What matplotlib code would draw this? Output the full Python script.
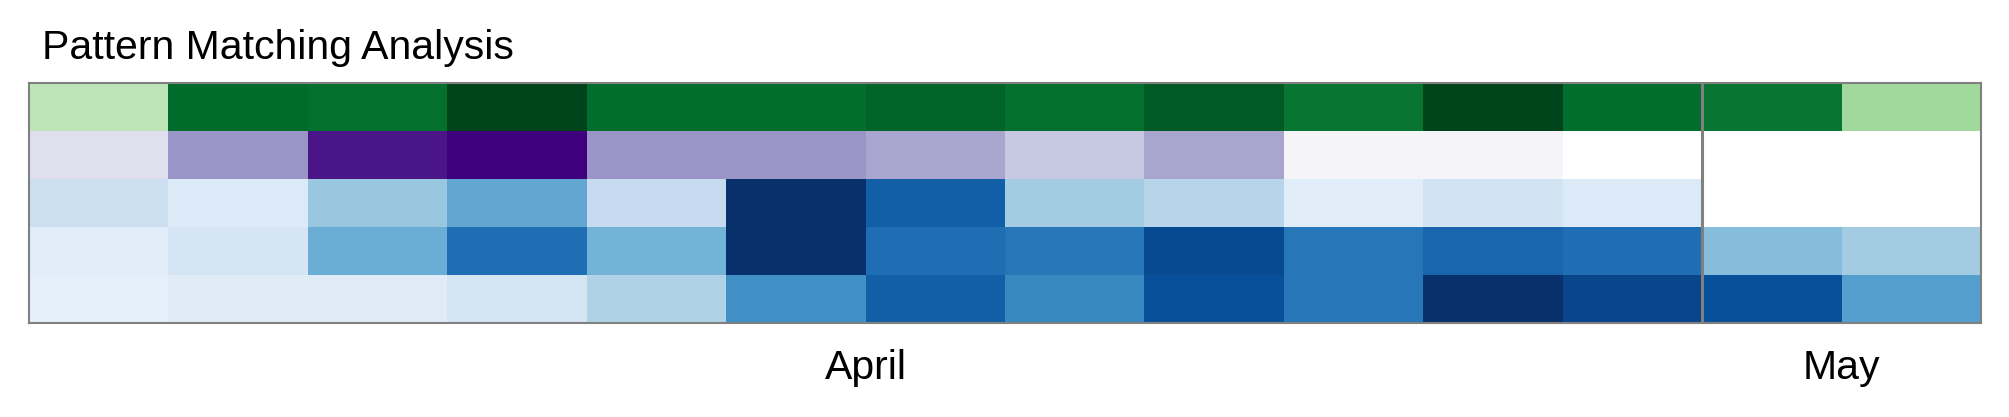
import numpy as np
import matplotlib
matplotlib.use("Agg")
import matplotlib.pyplot as plt
import matplotlib.transforms as mtransforms

plt.rcParams['font.family'] = ['Liberation Sans', 'DejaVu Sans']

title = "Pattern Matching Analysis"
months = ["April", "May"]
month_days = [12, 2]

# one row per pattern, values are 0..1 scores (nan = no data)
row_green = [0.28, 0.88, 0.86, 1.00, 0.87, 0.87, 0.90, 0.86, 0.93, 0.84, 1.00, 0.87, 0.84, 0.375]
row_purple = [0.22, 0.52, 0.93, 1.00, 0.52, 0.52, 0.46, 0.33, 0.46, 0.07, 0.07, np.nan, np.nan, np.nan]
row_blue1 = [0.22, 0.14, 0.39, 0.53, 0.25, 1.00, 0.82, 0.36, 0.30, 0.11, 0.19, 0.14, np.nan, np.nan]
row_blue2 = [0.11, 0.17, 0.50, 0.76, 0.48, 1.00, 0.76, 0.73, 0.90, 0.73, 0.79, 0.76, 0.43, 0.36]
row_blue3 = [0.09, 0.12, 0.12, 0.18, 0.32, 0.63, 0.82, 0.66, 0.88, 0.73, 1.00, 0.92, 0.88, 0.57]

rows = [row_green, row_purple, row_blue1, row_blue2, row_blue3]
cmaps = ["Greens", "Purples", "Blues", "Blues", "Blues"]

W, H = 2009, 417
fig = plt.figure(figsize=(W / 100, H / 100), dpi=100)
ax = fig.add_axes([29 / W, 1 - 323 / H, (1981 - 29) / W, (323 - 83) / H])

ncols = len(row_green)
x_edges = np.arange(ncols + 1)
for i, (vals, cm) in enumerate(zip(rows, cmaps)):
    data = np.ma.masked_invalid(np.array(vals, dtype=float))[None, :]
    ax.pcolormesh(x_edges, [i, i + 1], data, cmap=cm, vmin=0, vmax=1)

ax.set_xlim(0, ncols)
ax.set_ylim(len(rows), 0)
ax.set_xticks([])
ax.set_yticks([])
for sp in ax.spines.values():
    sp.set_color("#808080")
    sp.set_linewidth(1.5)

# month separators and labels
trans = mtransforms.blended_transform_factory(ax.transData, ax.transAxes)
start = 0
for m, n in zip(months, month_days):
    ax.text(start + n / 2, -0.233, m, transform=trans, ha="center", va="baseline", fontsize=29.5)
    start += n
    if start < ncols:
        ax.axvline(start, color="#808080", lw=2.2)

fig.text(42 / W, 1 - 59 / H, title, ha="left", va="baseline", fontsize=29.5)

fig.savefig("out.png", dpi=100)
